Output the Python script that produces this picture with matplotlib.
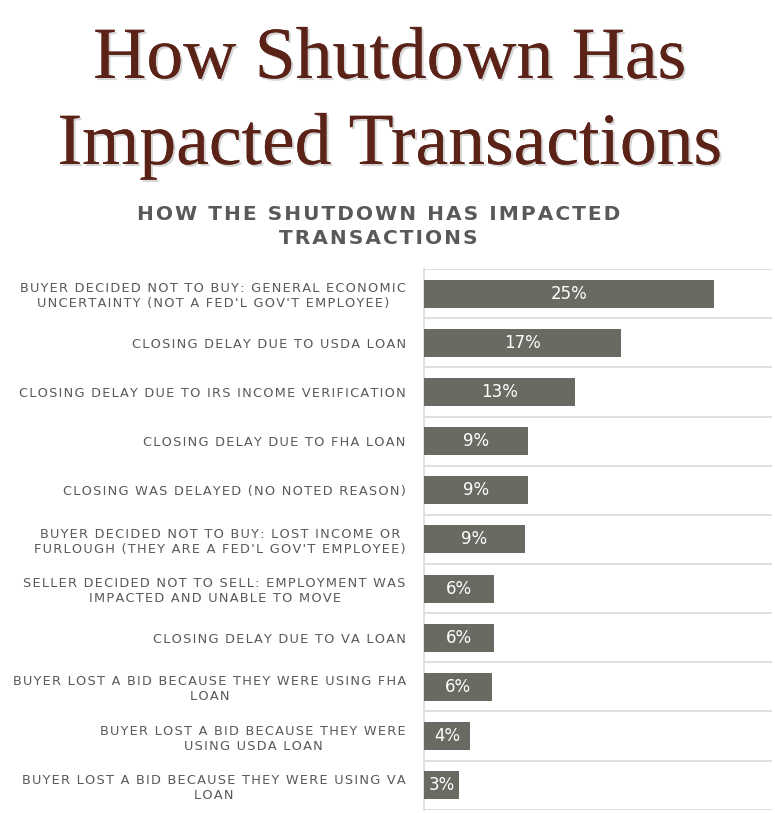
import matplotlib
matplotlib.use("Agg")
import matplotlib.pyplot as plt
import matplotlib.patheffects as pe
import numpy as np

categories = [
    "BUYER DECIDED NOT TO BUY: GENERAL ECONOMIC\nUNCERTAINTY (NOT A FED'L GOV'T EMPLOYEE)",
    "CLOSING DELAY DUE TO USDA LOAN",
    "CLOSING DELAY DUE TO IRS INCOME VERIFICATION",
    "CLOSING DELAY DUE TO FHA LOAN",
    "CLOSING WAS DELAYED (NO NOTED REASON)",
    "BUYER DECIDED NOT TO BUY: LOST INCOME OR\nFURLOUGH (THEY ARE A FED'L GOV'T EMPLOYEE)",
    "SELLER DECIDED NOT TO SELL: EMPLOYMENT WAS\nIMPACTED AND UNABLE TO MOVE",
    "CLOSING DELAY DUE TO VA LOAN",
    "BUYER LOST A BID BECAUSE THEY WERE USING FHA\nLOAN",
    "BUYER LOST A BID BECAUSE THEY WERE\nUSING USDA LOAN",
    "BUYER LOST A BID BECAUSE THEY WERE USING VA\nLOAN",
]
values = [25.0, 17.0, 13.0, 9.0, 9.0, 8.7, 6.0, 6.0, 5.9, 4.0, 3.0]
value_labels = ["25%", "17%", "13%", "9%", "9%", "9%", "6%", "6%", "6%", "4%", "3%"]

title_lines = ["How Shutdown Has", "Impacted Transactions"]
subtitle = "HOW THE SHUTDOWN HAS IMPACTED\nTRANSACTIONS"

BAR = "#696b62"
TXT = "#595959"
TITLE = "#5b2317"
GRID = "#d9d9d9"


def spaced(s, gap):
    return "\n".join(gap.join(line) for line in s.split("\n"))


fig = plt.figure(figsize=(7.75, 8.13), dpi=100)
fig.patch.set_facecolor("white")

shadow = [pe.withSimplePatchShadow(offset=(1.5, -1.5), shadow_rgbFace="#888888", alpha=0.35),
          pe.Normal()]
fig.text(0.503, 1 - 78 / 813, title_lines[0], ha="center", va="baseline",
         family="Liberation Serif", fontsize=53, color=TITLE, path_effects=shadow)
fig.text(0.503, 1 - 164 / 813, title_lines[1], ha="center", va="baseline",
         family="Liberation Serif", fontsize=53, color=TITLE, path_effects=shadow)

fig.text(0.488, 1 - 205 / 813, spaced(subtitle, "\u200a"), ha="center", va="top",
         family="DejaVu Sans", fontweight="bold", fontsize=14.5, color=TXT, linespacing=1.3)

ax = fig.add_axes([0.547, 0.004, 0.449, 0.665])
n = len(categories)
y = np.arange(n)
ax.barh(y, values, height=0.57, color=BAR, zorder=3)
ax.set_ylim(n - 0.5, -0.5)
ax.set_xlim(0, 30)
for b in np.arange(n + 1) - 0.5:
    ax.axhline(b, color=GRID, lw=1.2, zorder=1)
for yi, v, lab in zip(y, values, value_labels):
    ax.text(v / 2, yi, lab, ha="center", va="center", color="white",
            fontsize=12, family="DejaVu Sans", zorder=4)

ax.set_yticks(y)
ax.set_yticklabels([spaced(c, "\u200a") for c in categories], fontsize=9.3, color=TXT,
                   family="DejaVu Sans", multialignment="center", linespacing=1.2)
ax.tick_params(axis="y", length=0, pad=13)
ax.set_xticks([])
for s in ["top", "right", "bottom"]:
    ax.spines[s].set_visible(False)
ax.spines["left"].set_color(GRID)
ax.spines["left"].set_linewidth(1.2)

fig.savefig("out.png", dpi=100, facecolor="white")
